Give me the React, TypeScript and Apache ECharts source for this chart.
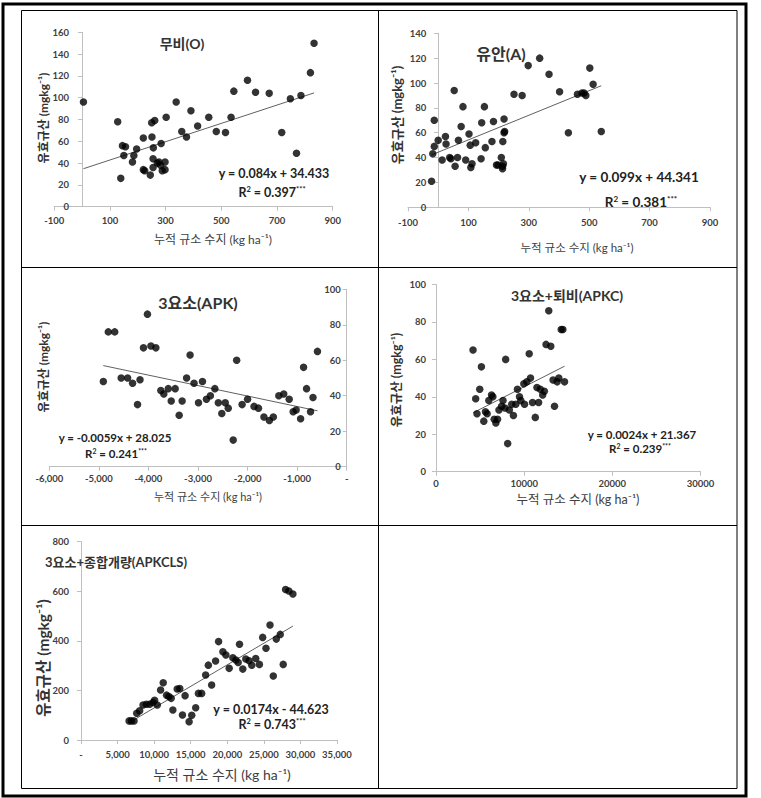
import React, { useEffect, useRef } from "react";
import * as echarts from "echarts";

// ---------------- DATA ----------------
// Panel 1: 무비(O)
const noFertPoints: [number, number][] = [
  [5, 96], [128, 78], [139, 26], [145, 56], [156, 55], [150, 47], [181, 41], [186, 47],
  [196, 53], [220, 63], [220, 34], [225, 33], [245, 29], [251, 64], [250, 77], [261, 79],
  [256, 54], [255, 44], [255, 36], [270, 40], [276, 41], [282, 38], [284, 58], [288, 33],
  [298, 41], [298, 34], [302, 82], [338, 96], [358, 69], [375, 64], [391, 88], [415, 74],
  [455, 82], [482, 69], [515, 68], [535, 82], [545, 106], [594, 116], [623, 105], [672, 104],
  [717, 68], [748, 99], [770, 49], [786, 102], [820, 123], [833, 150],
];
// Panel 2: 유안(A)
const ammoniumPoints: [number, number][] = [
  [-22, 21], [-18, 43], [-13, 70], [-13, 49], [0, 54], [13, 38], [24, 57], [26, 51],
  [38, 40], [42, 39], [53, 94], [56, 33], [64, 40], [67, 54], [76, 65], [82, 81],
  [91, 38], [102, 59], [106, 50], [108, 32], [112, 35], [124, 52], [142, 39], [144, 68],
  [153, 81], [156, 48], [178, 53], [183, 69], [193, 34], [198, 34], [209, 40], [213, 33],
  [213, 31], [216, 35], [214, 53], [218, 60], [220, 61], [218, 71], [251, 91], [278, 90],
  [298, 114], [336, 120], [367, 107], [402, 93], [431, 60], [461, 91], [476, 92], [483, 92],
  [489, 90], [502, 112], [513, 99], [540, 61],
];
// Panel 3: 3요소(APK)
const apkPoints: [number, number][] = [
  [-4910, 48], [-4810, 76], [-4680, 76], [-4550, 50], [-4420, 50], [-4320, 47], [-4220, 35],
  [-4170, 49], [-4100, 67], [-4020, 86], [-3950, 68], [-3850, 67], [-3750, 43], [-3690, 41],
  [-3600, 44], [-3540, 37], [-3460, 44], [-3380, 29], [-3320, 37], [-3230, 50], [-3160, 63],
  [-3080, 47], [-2990, 36], [-2910, 48], [-2830, 38], [-2750, 40], [-2660, 44], [-2590, 36],
  [-2520, 30], [-2450, 36], [-2390, 33], [-2290, 15], [-2220, 60], [-2110, 35], [-2000, 38],
  [-1870, 34], [-1780, 33], [-1670, 28], [-1560, 26], [-1480, 28], [-1370, 40], [-1270, 41],
  [-1160, 38], [-1080, 31], [-1020, 32], [-930, 27], [-870, 56], [-810, 44], [-730, 31],
  [-680, 39], [-590, 65],
];
// Panel 4: 3요소+퇴비(APKC)
const apkcPoints: [number, number][] = [
  [4200, 65], [4500, 39], [4650, 31], [4960, 44], [5150, 56], [5420, 27], [5610, 32],
  [5800, 31], [5990, 38], [6300, 41], [6450, 40], [6600, 28], [6790, 26], [6980, 28],
  [7140, 33], [7440, 35], [7600, 38], [7820, 34], [7900, 60], [8130, 15], [8320, 33],
  [8590, 36], [8780, 30], [9050, 36], [9240, 44], [9470, 40], [9620, 38], [9960, 47],
  [10040, 36], [10300, 48], [10570, 63], [10720, 50], [10950, 37], [11260, 29], [11450, 45],
  [11640, 37], [11830, 44], [12100, 41], [12290, 43], [12480, 68], [12790, 86], [13020, 67],
  [13280, 49], [13440, 35], [13740, 48], [13930, 50], [14200, 76], [14390, 76], [14580, 48],
];
// Panel 5: 3요소+종합개량(APKCLS)
const apkclsPoints: [number, number][] = [
  [6570, 77], [6890, 77], [7250, 77], [7620, 108], [8020, 118], [8480, 141], [8930, 144],
  [9380, 144], [9840, 151], [10060, 160], [10430, 141], [10880, 202], [11240, 231], [11700, 181],
  [12010, 175], [12330, 168], [12560, 121], [13150, 206], [13510, 208], [13870, 101], [14230, 179],
  [14780, 74], [15140, 100], [15680, 130], [16050, 188], [16500, 188], [17040, 262], [17410, 302],
  [17860, 222], [18400, 319], [18810, 397], [19400, 356], [19810, 343], [20260, 289], [20760, 332],
  [21170, 323], [21490, 313], [21670, 386], [22120, 286], [22530, 327], [22980, 320], [23350, 302],
  [23890, 329], [24390, 305], [24840, 414], [25290, 370], [25840, 464], [26290, 258], [26700, 407],
  [27240, 426], [27650, 305], [27970, 607], [28420, 601], [28970, 589],
];

const panelPoints = [noFertPoints, ammoniumPoints, apkPoints, apkcPoints, apkclsPoints];
const panelTitles = ["무비(O)", "유안(A)", "3요소(APK)", "3요소+퇴비(APKC)", "3요소+종합개량(APKCLS)"];
const trendSlopes = [0.084, 0.099, -0.0059, 0.0024, 0.0174];
const trendIntercepts = [34.433, 44.341, 28.025, 21.367, -44.623];
const equationTexts = [
  "y = 0.084x + 34.433",
  "y = 0.099x + 44.341",
  "y = -0.0059x + 28.025",
  "y = 0.0024x + 21.367",
  "y = 0.0174x - 44.623",
];
const r2Values = ["0.397", "0.381", "0.241", "0.239", "0.743"];
const xAxisMin = [-100, -100, -6000, 0, 0];
const xAxisMax = [900, 900, 0, 30000, 35000];
const xAxisStep = [200, 200, 1000, 10000, 5000];
const yAxisMax = [160, 140, 100, 100, 800];
const yAxisStep = [20, 20, 20, 20, 200];
const xLabelComma = [false, false, true, false, true];
const xTitleText = "누적 규소 수지 (kg ha⁻¹)";
const yTitleText = "유효규산 (mgkg⁻¹)";

// ---------------- LAYOUT ----------------
const FONT = "Lato, 'Noto Sans CJK KR', sans-serif";
const grids = [
  { left: 54.2, top: 32.3, width: 278.5, height: 174.4 },
  { left: 408, top: 33.3, width: 302, height: 174 },
  { left: 49.3, top: 289.3, width: 297.4, height: 177.4 },
  { left: 436, top: 284.5, width: 264.5, height: 187.2 },
  { left: 81, top: 541.7, width: 256, height: 198.3 },
];
const yLabelMargin = [13, 12, 6, 10, 12];
const xLabelMargin = [9, 10, 7, 7, 10];
const titleLayout = [
  { x: 182, y: 43, size: 14 },
  { x: 501, y: 53, size: 16 },
  { x: 198, y: 302, size: 16 },
  { x: 567, y: 295, size: 14 },
  { x: 116, y: 562, size: 13 },
];
const eqLayout = [
  { x: 274, y: 173.3, x2: 272, y2: 192.3, size: 12.5 },
  { x: 639, y: 176.7, x2: 641, y2: 201.7, size: 13.5 },
  { x: 115, y: 437.7, x2: 116, y2: 453.3, size: 11.5 },
  { x: 642, y: 434, x2: 640, y2: 448.3, size: 11.5 },
  { x: 271, y: 709.3, x2: 272, y2: 724, size: 12.5 },
];
const xTitleLayout = [
  { x: 213, y: 239.3, size: 12 },
  { x: 577, y: 247.3, size: 11.5 },
  { x: 208, y: 496.7, size: 11 },
  { x: 578, y: 499.3, size: 12.5 },
  { x: 222, y: 774, size: 14 },
];
const yTitleLayout = [
  { x: 43.3, y: 118, size: 12 },
  { x: 396.7, y: 115, size: 13 },
  { x: 43.3, y: 367, size: 12 },
  { x: 396.7, y: 380, size: 12.5 },
  { x: 43, y: 658, size: 15.5 },
];

const AXIS_COLOR = "#bfbfbf";
const LABEL_COLOR = "#404040";

function fmtX(v: number, comma: boolean): string {
  if (!comma) return String(v);
  if (v === 0) return "-";
  return v.toLocaleString("en-US");
}

export default function App() {
  const ref = useRef<HTMLDivElement>(null);
  useEffect(() => {
    if (!ref.current) return;
    const chart = echarts.init(ref.current, undefined, { renderer: "svg" });

    const xAxes = grids.map((_, i) => ({
      type: "value",
      gridIndex: i,
      min: xAxisMin[i],
      max: xAxisMax[i],
      interval: xAxisStep[i],
      splitLine: { show: false },
      axisLine: { show: true, onZero: false, lineStyle: { color: AXIS_COLOR, width: 1 } },
      axisTick: { show: true, length: 4, lineStyle: { color: AXIS_COLOR } },
      axisLabel: {
        color: LABEL_COLOR,
        fontWeight: "bold",
        fontSize: 9.5,
        fontFamily: FONT,
        margin: xLabelMargin[i],
        formatter: (v: number) => fmtX(v, xLabelComma[i]),
      },
    }));
    // y axis crosses the x axis at x = 0 (Excel style): shift it with offset
    const yAxes = grids.map((g, i) => {
      const zeroShift = ((0 - xAxisMin[i]) / (xAxisMax[i] - xAxisMin[i])) * g.width;
      return {
        type: "value",
        gridIndex: i,
        position: "left",
        offset: -zeroShift,
        min: 0,
        max: yAxisMax[i],
        interval: yAxisStep[i],
        splitLine: { show: false },
        axisLine: { show: true, onZero: false, lineStyle: { color: AXIS_COLOR, width: 1 } },
        axisTick: { show: true, length: 4, lineStyle: { color: AXIS_COLOR } },
        axisLabel: {
          color: LABEL_COLOR,
          fontWeight: "bold",
          fontSize: 9.5,
          fontFamily: FONT,
          margin: yLabelMargin[i],
        },
      };
    });

    const series: any[] = [];
    panelPoints.forEach((pts, i) => {
      const xs = pts.map((p) => p[0]);
      const x0 = Math.min(...xs);
      const x1 = Math.max(...xs);
      series.push({
        type: "line",
        xAxisIndex: i,
        yAxisIndex: i,
        data: [
          [x0, trendSlopes[i] * x0 + trendIntercepts[i]],
          [x1, trendSlopes[i] * x1 + trendIntercepts[i]],
        ],
        symbol: "none",
        silent: true,
        lineStyle: { color: "#606060", width: 1 },
        z: 2,
      });
      series.push({
        type: "scatter",
        xAxisIndex: i,
        yAxisIndex: i,
        data: pts,
        symbol: "circle",
        symbolSize: 7.5,
        itemStyle: { color: "#000" },
        z: 3,
      });
    });

    const graphics: any[] = [
      { type: "rect", shape: { x: 3, y: 4, width: 743, height: 792 }, style: { fill: "none", stroke: "#000", lineWidth: 3 } },
      { type: "rect", shape: { x: 21.5, y: 10.5, width: 715.5, height: 778 }, style: { fill: "none", stroke: "#000", lineWidth: 1 } },
      { type: "line", shape: { x1: 378.5, y1: 10.5, x2: 378.5, y2: 788.5 }, style: { stroke: "#000", lineWidth: 1 } },
      { type: "line", shape: { x1: 21.5, y1: 267.5, x2: 737, y2: 267.5 }, style: { stroke: "#000", lineWidth: 1 } },
      { type: "line", shape: { x1: 21.5, y1: 525.5, x2: 737, y2: 525.5 }, style: { stroke: "#000", lineWidth: 1 } },
    ];

    panelTitles.forEach((t, i) => {
      const L = titleLayout[i];
      graphics.push({
        type: "text",
        x: L.x,
        y: L.y,
        z: 10,
        style: {
          text: t,
          fontSize: L.size,
          fontWeight: "bold",
          fontFamily: FONT,
          fill: "#333",
          align: "center",
          verticalAlign: "middle",
        },
      });
    });

    equationTexts.forEach((t, i) => {
      const L = eqLayout[i];
      graphics.push({
        type: "text",
        x: L.x,
        y: L.y,
        z: 10,
        style: {
          text: t,
          fontSize: L.size,
          fontWeight: "bold",
          fontFamily: FONT,
          fill: "#222",
          align: "center",
          verticalAlign: "middle",
        },
      });
      graphics.push({
        type: "text",
        x: L.x2,
        y: L.y2,
        z: 10,
        style: {
          text: `{a|R}{s|2}{a| = ${r2Values[i]}}{s|***}`,
          rich: {
            a: { fontSize: L.size, fontWeight: "bold", fontFamily: FONT, fill: "#222" },
            s: { fontSize: L.size * 0.6, fontWeight: "bold", fontFamily: FONT, fill: "#222", verticalAlign: "top" },
          },
          align: "center",
          verticalAlign: "middle",
        },
      });
    });

    xTitleLayout.forEach((L) => {
      graphics.push({
        type: "text",
        x: L.x,
        y: L.y,
        z: 10,
        style: {
          text: xTitleText,
          fontSize: L.size,
          fontFamily: FONT,
          fill: "#404040",
          align: "center",
          verticalAlign: "middle",
        },
      });
    });
    yTitleLayout.forEach((L) => {
      graphics.push({
        type: "text",
        x: L.x,
        y: L.y,
        rotation: Math.PI / 2,
        z: 10,
        style: {
          text: yTitleText,
          fontSize: L.size,
          fontWeight: "bold",
          fontFamily: FONT,
          fill: "#333",
          align: "center",
          verticalAlign: "middle",
        },
      });
    });

    chart.setOption({
      animation: false,
      backgroundColor: "#fff",
      grid: grids.map((g) => ({ ...g, containLabel: false, outerBoundsMode: "none" })),
      xAxis: xAxes,
      yAxis: yAxes,
      series,
      graphic: graphics,
    } as any);

    return () => chart.dispose();
  }, []);

  return (
    <div
      ref={ref}
      style={{ position: "absolute", left: 0, top: 0, width: 761, height: 798 }}
    />
  );
}
